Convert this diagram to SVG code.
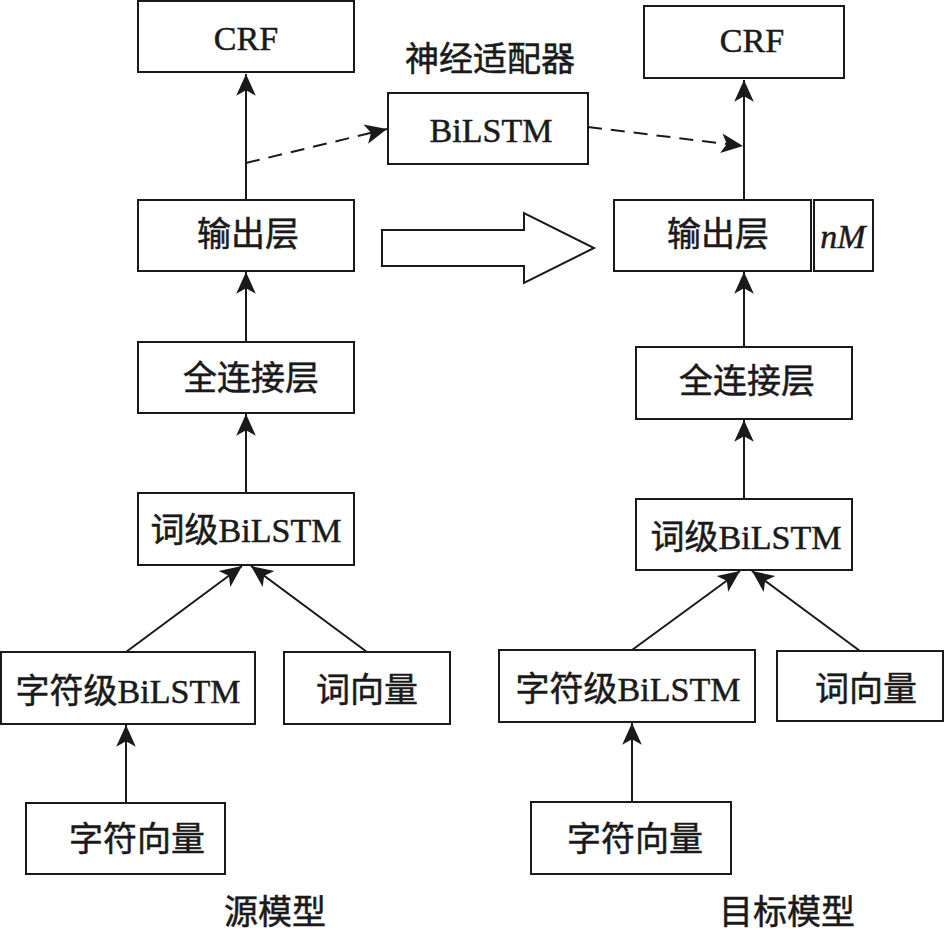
<svg xmlns="http://www.w3.org/2000/svg" width="946" height="931" viewBox="0 0 946 931">
<style>
.box{fill:#fff;stroke:#1a1a1a;stroke-width:2}
.t{font-family:"Liberation Serif","Noto Sans CJK SC",serif;font-size:34px;fill:#1a1a1a;stroke:#1a1a1a;stroke-width:0.5;text-anchor:middle}
.c{stroke:#1a1a1a;stroke-width:2;fill:none}
.d{stroke-dasharray:14 9}
</style>
<defs>
<marker id="ah" markerUnits="userSpaceOnUse" markerWidth="24" markerHeight="22" viewBox="-21 -10 22 20" refX="0" refY="0" orient="auto">
<path d="M0,0 L-20,-9 L-15,0 L-20,9 Z" fill="#1a1a1a"/>
</marker>
</defs>
<rect width="946" height="931" fill="#fff"/>
<g id="connectors">
<line class="c" x1="246" y1="200" x2="246" y2="74" marker-end="url(#ah)"/>
<line class="c" x1="246" y1="342" x2="246" y2="272" marker-end="url(#ah)"/>
<line class="c" x1="246" y1="493" x2="246" y2="414" marker-end="url(#ah)"/>
<line class="c" x1="126" y1="652" x2="242" y2="566" marker-end="url(#ah)"/>
<line class="c" x1="367" y1="652" x2="251" y2="566" marker-end="url(#ah)"/>
<line class="c" x1="126" y1="803" x2="126" y2="725" marker-end="url(#ah)"/>
<line class="c d" x1="246" y1="163" x2="387" y2="129" marker-end="url(#ah)"/>
<line class="c d" x1="588" y1="127" x2="743" y2="146" marker-end="url(#ah)"/>
<line class="c" x1="744" y1="200" x2="744" y2="80" marker-end="url(#ah)"/>
<line class="c" x1="744" y1="347" x2="744" y2="272" marker-end="url(#ah)"/>
<line class="c" x1="744" y1="499" x2="744" y2="420" marker-end="url(#ah)"/>
<line class="c" x1="632" y1="650" x2="740" y2="571" marker-end="url(#ah)"/>
<line class="c" x1="860" y1="651" x2="752" y2="571" marker-end="url(#ah)"/>
<line class="c" x1="632" y1="802" x2="632" y2="723" marker-end="url(#ah)"/>
<polygon class="c" points="382,230 524,230 524,213 594,248 524,283 524,266 382,266"/>
</g>
<g id="src-crf"><rect class="box" x="138" y="1" width="216" height="71"/><text class="t" x="246" y="50">CRF</text></g>
<g id="src-out"><rect class="box" x="138" y="200" width="216" height="71"/><text class="t" x="248" y="246">输出层</text></g>
<g id="src-fc"><rect class="box" x="138" y="342" width="216" height="71"/><text class="t" x="251" y="390">全连接层</text></g>
<g id="src-word"><rect class="box" x="138" y="493" width="216" height="72"/><text class="t" x="246" y="542">词级BiLSTM</text></g>
<g id="src-char"><rect class="box" x="1" y="652" width="254" height="72"/><text class="t" x="128" y="703">字符级BiLSTM</text></g>
<g id="src-wv"><rect class="box" x="284" y="652" width="166" height="72"/><text class="t" x="367" y="702">词向量</text></g>
<g id="src-cv"><rect class="box" x="26" y="803" width="199" height="71"/><text class="t" x="137" y="851">字符向量</text></g>
<g id="src-label"><text class="t" x="275" y="924">源模型</text></g>
<g id="adapter"><rect class="box" x="388" y="93" width="200" height="71"/><text class="t" x="491" y="142">BiLSTM</text><text class="t" x="490" y="71">神经适配器</text></g>
<g id="tgt-crf"><rect class="box" x="644" y="6" width="200" height="72"/><text class="t" x="752" y="52">CRF</text></g>
<g id="tgt-out"><rect class="box" x="614" y="200" width="197" height="71"/><text class="t" x="718" y="246">输出层</text></g>
<g id="tgt-nm"><rect class="box" x="814" y="200" width="59" height="71"/><text class="t" x="843" y="248" font-style="italic" font-size="35">nM</text></g>
<g id="tgt-fc"><rect class="box" x="636" y="347" width="216" height="72"/><text class="t" x="747" y="393">全连接层</text></g>
<g id="tgt-word"><rect class="box" x="636" y="499" width="216" height="71"/><text class="t" x="746" y="549">词级BiLSTM</text></g>
<g id="tgt-char"><rect class="box" x="499" y="650" width="256" height="72"/><text class="t" x="628" y="701">字符级BiLSTM</text></g>
<g id="tgt-wv"><rect class="box" x="777" y="651" width="166" height="70"/><text class="t" x="866" y="701">词向量</text></g>
<g id="tgt-cv"><rect class="box" x="531" y="802" width="200" height="72"/><text class="t" x="635" y="851">字符向量</text></g>
<g id="tgt-label"><text class="t" x="787" y="924">目标模型</text></g>
</svg>
